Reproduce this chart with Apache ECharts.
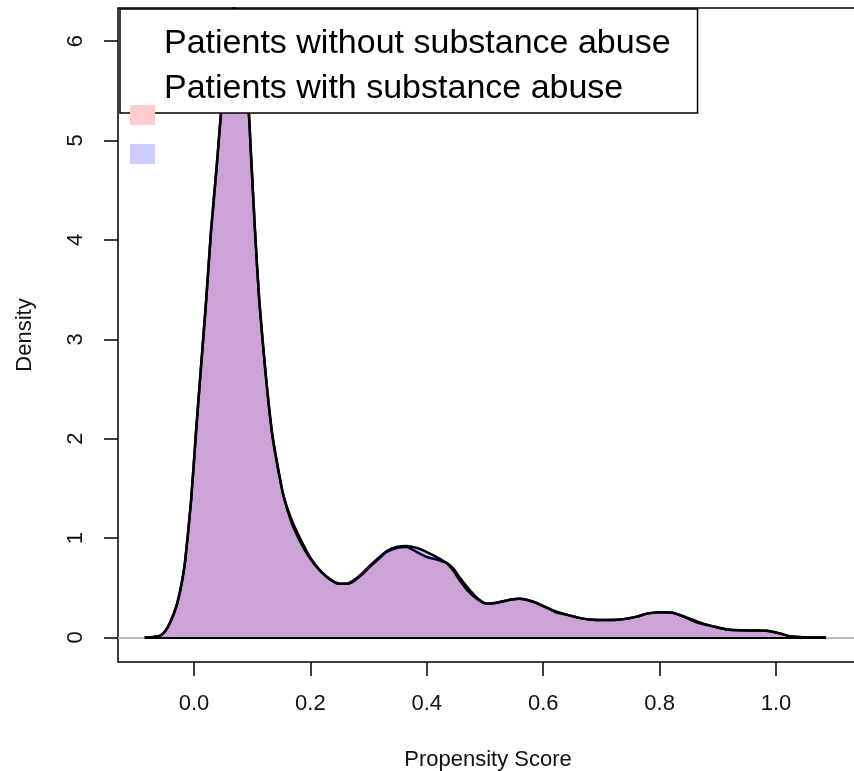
<!DOCTYPE html>
<html>
<head>
<meta charset="utf-8">
<script src="https://cdn.jsdelivr.net/npm/echarts@6/dist/echarts.min.js"></script>
<style>
html,body{margin:0;padding:0;background:#fff;}
#chart{width:854px;height:771px;}
</style>
</head>
<body>
<div id="chart"></div>
<script>
// ---- data ----
const seriesNames = ['Patients without substance abuse', 'Patients with substance abuse'];
const xTicks = [0.0, 0.2, 0.4, 0.6, 0.8, 1.0];
const yTicks = [0, 1, 2, 3, 4, 5, 6];
const scoreX = [-0.085, -0.07, -0.058, -0.05, -0.041, -0.03, -0.021, -0.015, -0.005, 0.003,
  0.012, 0.021, 0.029, 0.039, 0.046, 0.055, 0.062, 0.068, 0.075, 0.082,
  0.088, 0.094, 0.098, 0.105, 0.112, 0.122, 0.134, 0.145, 0.154, 0.168,
  0.182, 0.199, 0.217, 0.235, 0.251, 0.262, 0.273, 0.288, 0.302, 0.317,
  0.331, 0.348, 0.365, 0.383, 0.40, 0.42, 0.434, 0.446, 0.457, 0.469,
  0.486, 0.503, 0.52, 0.543, 0.56, 0.583, 0.606, 0.623, 0.64, 0.66,
  0.68, 0.705, 0.732, 0.761, 0.778, 0.80, 0.823, 0.847, 0.865, 0.881,
  0.90, 0.916, 0.94, 0.96, 0.984, 1.007, 1.024, 1.046, 1.065, 1.086];
const densityWithout = [0, 0.004, 0.02, 0.06, 0.15, 0.32, 0.55, 0.78, 1.38, 2.03,
  2.72, 3.40, 4.07, 4.74, 5.25, 5.85, 6.2, 6.33, 6.3, 6.05,
  5.7, 5.3, 4.85, 4.07, 3.40, 2.72, 2.06, 1.68, 1.42, 1.18,
  1.0, 0.81, 0.67, 0.58, 0.54, 0.54, 0.56, 0.63, 0.71, 0.79,
  0.86, 0.90, 0.91, 0.86, 0.81, 0.78, 0.75, 0.69, 0.60, 0.51,
  0.40, 0.34, 0.35, 0.38, 0.39, 0.36, 0.30, 0.26, 0.23, 0.20,
  0.18, 0.175, 0.18, 0.21, 0.24, 0.255, 0.25, 0.20, 0.16, 0.13,
  0.10, 0.08, 0.072, 0.07, 0.068, 0.04, 0.012, 0.002, 0, 0];
const densityWith = [0, 0.004, 0.02, 0.06, 0.15, 0.32, 0.55, 0.78, 1.38, 2.03,
  2.72, 3.40, 4.07, 4.74, 5.25, 5.85, 6.2, 6.33, 6.3, 6.05,
  5.7, 5.3, 4.85, 4.07, 3.40, 2.72, 2.06, 1.68, 1.42, 1.15,
  0.97, 0.80, 0.67, 0.58, 0.54, 0.54, 0.57, 0.64, 0.72, 0.80,
  0.87, 0.91, 0.92, 0.90, 0.86, 0.80, 0.75, 0.67, 0.57, 0.48,
  0.39, 0.34, 0.35, 0.38, 0.39, 0.36, 0.30, 0.25, 0.23, 0.20,
  0.18, 0.175, 0.18, 0.21, 0.24, 0.255, 0.25, 0.195, 0.15, 0.125,
  0.10, 0.08, 0.072, 0.07, 0.068, 0.04, 0.012, 0.002, 0, 0];

const pink = 'rgba(255,0,0,0.2)';
const blue = 'rgba(0,0,255,0.2)';
const pairs = (xs, ys) => xs.map((x, i) => [x, ys[i]]);

const chart = echarts.init(document.getElementById('chart'), null, {renderer: 'canvas'});
const font = 'Liberation Sans, Arial, sans-serif';
const X_MIN = -0.1306, X_MAX = 1.1409;

function makeSeries(name, ys, color, extra) {
  return Object.assign({
    name: name,
    type: 'line',
    data: pairs(scoreX, ys),
    showSymbol: false,
    symbol: 'none',
    smooth: 0.2,
    clip: true,
    itemStyle: {color: color},
    lineStyle: {color: '#000', width: 2.5},
    areaStyle: {color: color, opacity: 1},
    z: 2
  }, extra || {});
}

chart.setOption({
  animation: false,
  backgroundColor: '#fff',
  grid: {left: 118, right: -4, top: 8, bottom: 109, show: true, borderColor: '#000', borderWidth: 1.5,
         backgroundColor: 'transparent', containLabel: false, outerBoundsMode: 'none'},
  xAxis: {
    type: 'value',
    min: X_MIN, max: X_MAX,
    name: 'Propensity Score', nameLocation: 'middle', nameGap: 87,
    nameTextStyle: {fontFamily: font, fontSize: 22, color: '#111'},
    axisLine: {show: false, onZero: false},
    splitLine: {show: false},
    axisTick: {show: true, customValues: xTicks, length: 14, inside: false, lineStyle: {color: '#000', width: 1.5}},
    axisLabel: {customValues: xTicks, margin: 31, fontFamily: font, fontSize: 22, color: '#111', formatter: v => v.toFixed(1)}
  },
  yAxis: {
    type: 'value',
    min: -0.2465, max: 6.333,
    name: 'Density', nameLocation: 'middle', nameGap: 82, nameRotate: 90,
    nameTextStyle: {fontFamily: font, fontSize: 22, color: '#111'},
    axisLine: {show: false, onZero: false},
    splitLine: {show: false},
    axisTick: {show: true, customValues: yTicks, length: 14, inside: false, lineStyle: {color: '#000', width: 1.5}},
    axisLabel: {customValues: yTicks, margin: 31, rotate: 90, fontFamily: font, fontSize: 22, color: '#111'}
  },
  legend: [
    {
      data: seriesNames,
      orient: 'vertical',
      left: 120, top: 9,
      itemGap: 0,
      itemWidth: 14, itemHeight: 14,
      icon: 'rect',
      itemStyle: {opacity: 0},
      lineStyle: {opacity: 0},
      padding: [12, 27, 2, 25],
      backgroundColor: '#fff',
      borderColor: '#000',
      borderWidth: 1.5,
      textStyle: {fontFamily: font, fontSize: 34, color: '#000', lineHeight: 45},
      selectedMode: false,
      z: 5
    },
    {
      data: [
        {name: seriesNames[0], itemStyle: {color: 'rgb(255,204,204)', borderWidth: 0}},
        {name: seriesNames[1], itemStyle: {color: 'rgb(204,204,255)', borderWidth: 0}}
      ],
      orient: 'vertical',
      left: 130, top: 105,
      itemGap: 19,
      itemWidth: 25, itemHeight: 20,
      icon: 'rect',
      lineStyle: {width: 0, opacity: 0},
      padding: 0,
      formatter: () => '',
      textStyle: {fontSize: 1},
      selectedMode: false,
      z: 10
    }
  ],
  series: [
    makeSeries(seriesNames[0], densityWithout, pink, {
      markLine: {
        silent: true, symbol: 'none', animation: false,
        label: {show: false},
        data: [
          [{coord: [X_MIN, 0], lineStyle: {color: '#bdbdbd', width: 2, type: 'solid'}}, {coord: [X_MAX, 0]}],
          [{coord: [scoreX[0], 0], lineStyle: {color: '#000', width: 2, type: 'solid'}}, {coord: [scoreX[scoreX.length - 1], 0]}]
        ]
      }
    }),
    makeSeries(seriesNames[1], densityWith, blue, {z: 3})
  ]
});
</script>
</body>
</html>
